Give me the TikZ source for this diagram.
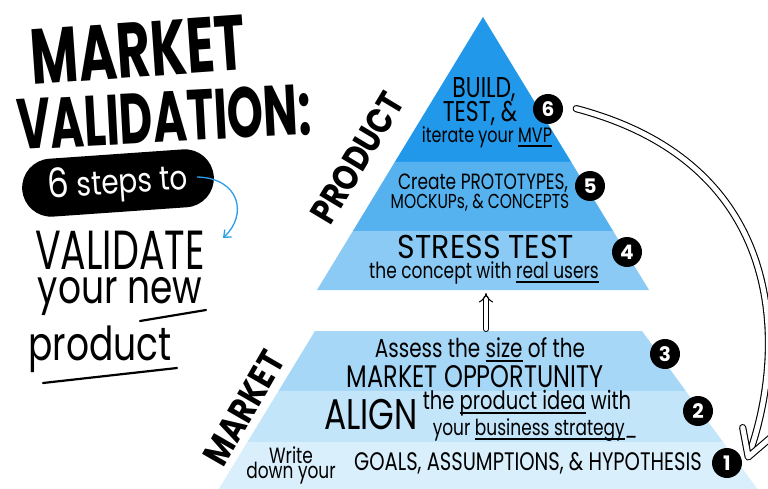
\documentclass[tikz,border=0pt]{standalone}
\usepackage{fontspec}
\setmainfont{Poppins}
\usepackage{tikz}
\usetikzlibrary{arrows.meta, positioning, calc}
\definecolor{bandsix}{HTML}{2298EA}
\definecolor{bandfive}{HTML}{55B2EF}
\definecolor{bandfour}{HTML}{8ACAF4}
\definecolor{bandthree}{HTML}{A6D7F7}
\definecolor{bandtwo}{HTML}{C3E5FA}
\definecolor{bandone}{HTML}{DAEFFC}
\definecolor{penblue}{HTML}{2A9DE8}
\newcommand{\fs}[1]{\fontsize{#1}{#1}\selectfont}
\newcommand{\hw}[2][1.3]{\scalebox{1}[#1]{#2}}
\newcommand{\lined}[1]{\setbox0\hbox{#1}\rlap{\rule[-3.5pt]{\wd0}{1.4pt}}\box0\relax}
\tikzstyle{badge} = [circle, fill=black, text=white, minimum size=30pt, inner sep=0pt, font=\bfseries\fs{20}]
\tikzstyle{hand} = [inner sep=0pt, text=black]
\tikzstyle{bigtitle} = [inner sep=0pt, font=\bfseries\fs{52}]
\tikzstyle{side} = [inner sep=0pt, font=\bfseries\fs{30}]
\tikzstyle{hollow} = [double, double distance=4pt, line width=1pt, line cap=round, -{Implies[scale=1.4]}]
\tikzstyle{hollowline} = [double, double distance=5pt, line width=1.1pt, line cap=round, line join=round]

\begin{document}
\begin{tikzpicture}[x=1pt, y=-1pt]
\useasboundingbox (0,0) rectangle (768,489);
\fill[white] (0,0) rectangle (768,489);

% product pyramid
\fill[bandsix] (483,17) -- (571.2,162) -- (394.8,162) -- cycle;
\fill[bandfive] (394.8,162) -- (571.2,162) -- (613.1,231) -- (352.9,231) -- cycle;
\fill[bandfour] (352.9,231) -- (613.1,231) -- (649,290) -- (317,290) -- cycle;
% market trapezoid
\fill[bandthree] (315,331) -- (642,331) -- (685.8,391) -- (278.5,391) -- cycle;
\fill[bandtwo] (278.5,391) -- (685.8,391) -- (723,442) -- (247.4,442) -- cycle;
\fill[bandone] (247.4,442) -- (723,442) -- (757.3,489) -- (218.8,489) -- cycle;
\coordinate (pbase) at (486,290);
\coordinate (mtop) at (486,331);

% left column
\node (title1) [bigtitle, rotate=4] at (138,50) {\hw[1.5]{MARKET}};
\node (title2) [bigtitle, font=\bfseries\fs{46}, rotate=3] at (164,117) {\hw[1.55]{VALIDATION:}};
\node (pill) [fill=black, rounded corners=29pt, minimum width=192pt, minimum height=58pt, rotate=4, text=white, font=\fs{28}] at (118,183) {\hw[1.2]{{\fs{34}6} steps to}};
\node (validate) [hand, font=\fs{38}] at (120,250) {\hw[1.45]{VALIDATE}};
\node (yournew) [hand, font=\fs{36}] at (120,296) {\hw{your new}};
\node (product) [hand, font=\fs{36}] at (100,349) {\hw{product}};
\coordinate (cstart) at (197,177);
\coordinate (cend) at (223,238);
\coordinate (unew1) at (140,321);
\coordinate (unew2) at (206,310);
\coordinate (uprod1) at (43,383);
\coordinate (uprod2) at (177,368);
\draw[penblue, line width=1.3pt, -{Straight Barb[length=6pt, width=10pt]}] (cstart) .. controls (240,178) and (248,215) .. (cend);
\draw[line width=2.2pt, line cap=round] (unew1) -- (unew2);
\draw[line width=2.2pt, line cap=round] (uprod1) -- (uprod2);

% side labels
\node (sideprod) [side, rotate=59] at (357,158) {\hw[1.2]{PRODUCT}};
\node (sidemkt) [side, rotate=60] at (244,408) {\hw[1.2]{MARKET}};

% product steps
\node (b6a) [hand, font=\fs{22}] at (484,90) {\hw{BUILD,}};
\node (b6b) [hand, font=\fs{22}] at (480,113) {\hw{TEST, \&}};
\node (b6c) [hand, font=\fs{16}] at (487,137) {\hw{iterate your \lined{MVP}}};
\node (b5a) [hand, font=\fs{17}] at (483,183) {\hw{Create PROTOTYPES,}};
\node (b5b) [hand, font=\fs{15.5}] at (480,203) {\hw{MOCKUPs, \& CONCEPTS}};
\node (b4a) [hand, font=\fs{30}] at (486,247) {\hw[1.1]{STRESS TEST}};
\node (b4b) [hand, font=\fs{17}] at (484,273) {\hw{the concept with \lined{real users}}};

% market steps
\node (b3a) [hand, font=\fs{20}] at (480,350) {\hw{Assess the \lined{size} of the}};
\node (b3b) [hand, font=\fs{24}] at (475,377) {\hw{MARKET OPPORTUNITY}};
\node (b2a) [hand, font=\fs{33}] at (371,415) {\hw{ALIGN}};
\node (b2b) [hand, font=\fs{19.5}] at (527,403) {\hw{the \lined{product idea} with}};
\node (b2c) [hand, font=\fs{17}] at (535,430) {\hw{your \lined{business strategy}\_}};
\node (b1a) [hand, font=\fs{17}, align=center] at (291,465) {\hw{Write}\\[-2pt]\hw{down your}};
\node (b1b) [hand, font=\fs{19.5}] at (528,463) {\hw[1.3]{GOALS, ASSUMPTIONS, \& HYPOTHESIS}};

% step numbers
\node (n6) [badge] at (548,109) {6};
\node (n5) [badge] at (590,186) {5};
\node (n4) [badge] at (627,252) {4};
\node (n3) [badge] at (665,354) {3};
\node (n2) [badge] at (698,411) {2};
\node (n1) [badge] at (727,463) {1};

% arrows
\draw[hollow, shorten <=2pt, shorten >=3pt] (mtop) -- (pbase);
\coordinate (tip) at ($(n1.east)+(6,-6)$);
\draw[hollowline, shorten <=14pt, shorten >=7pt] (n6.15) .. controls (790,165) and (785,350) .. (tip);
\draw[hollowline] ($(tip)+(-5.5,-29.4)$) -- (tip) -- ($(tip)+(22.7,-19.5)$);
\end{tikzpicture}
\end{document}
